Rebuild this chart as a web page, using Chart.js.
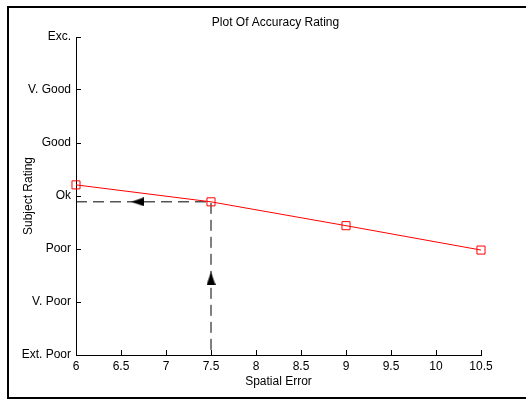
<!DOCTYPE html>
<html>
<head>
<meta charset="utf-8">
<script src="https://cdn.jsdelivr.net/npm/chart.js@4"></script>
<style>
  html, body { margin: 0; padding: 0; background: #fff; overflow: hidden; }
  #wrap { position: relative; width: 526px; height: 399px; }
  #frame {
    position: absolute; left: 7px; top: 6px; width: 600px; height: 389px;
    border: 2px solid #000; border-right: none; pointer-events: none;
  }
</style>
</head>
<body>
<div id="wrap">
  <canvas id="chart" width="526" height="399"></canvas>
  <div id="frame"></div>
</div>
<script>
const spatialError = [6, 7.5, 9, 10.5];
const subjectRating = [3.21, 2.89, 2.44, 1.98];
const ratingLabels = ['Ext. Poor', 'V. Poor', 'Poor', 'Ok', 'Good', 'V. Good', 'Exc.'];

// dashed read-off guide: from the curve at 7.5 across to the axis and down
const guideX = [6, 7.5, 7.5];
const guideY = [2.89, 2.89, 0];
const arrowX = [6.686, 7.5];
const arrowY = [2.89, 1.443];
const arrowRotation = [-90, 0];

const font = { family: 'Arial, "Liberation Sans", sans-serif', size: 12 };

function arrowHead() {
  const c = document.createElement('canvas');
  c.width = 9;
  c.height = 13;
  const ctx = c.getContext('2d');
  ctx.fillStyle = '#000';
  ctx.beginPath();
  ctx.moveTo(4.5, 0);
  ctx.lineTo(9, 13);
  ctx.lineTo(0, 13);
  ctx.closePath();
  ctx.fill();
  return c;
}

const titlePlugin = {
  id: 'plotTitle',
  afterDraw(chart) {
    const ctx = chart.ctx;
    ctx.save();
    ctx.font = `${font.size}px ${font.family}`;
    ctx.fillStyle = '#000';
    ctx.textAlign = 'center';
    ctx.textBaseline = 'alphabetic';
    ctx.fillText('Plot Of Accuracy Rating', 275.5, 26);
    ctx.restore();
  },
};

new Chart(document.querySelector('#chart'), {
  type: 'scatter',
  data: {
    datasets: [
      {
        label: 'Rating',
        data: spatialError.map((x, i) => ({ x, y: subjectRating[i] })),
        showLine: true,
        borderColor: '#ff0000',
        borderWidth: 1,
        pointStyle: 'rect',
        pointRadius: 5.7,
        pointBorderColor: '#ff0000',
        pointBackgroundColor: 'rgba(0,0,0,0)',
        pointBorderWidth: 1,
        order: 0,
        clip: false,
      },
      {
        label: 'Guide',
        data: guideX.map((x, i) => ({ x, y: guideY[i] })),
        showLine: true,
        borderColor: '#000',
        borderWidth: 1,
        borderDash: [11, 6],
        pointRadius: 0,
        order: 2,
        clip: false,
      },
      {
        label: 'Arrows',
        data: arrowX.map((x, i) => ({ x, y: arrowY[i] })),
        showLine: false,
        pointStyle: arrowHead(),
        rotation: arrowRotation,
        order: 1,
        clip: false,
      },
    ],
  },
  options: {
    responsive: false,
    animation: false,
    devicePixelRatio: 1,
    layout: { padding: { left: 0, right: 45, top: 37, bottom: 0 } },
    plugins: {
      legend: { display: false },
      tooltip: { enabled: false },
      title: { display: false },
    },
    scales: {
      x: {
        type: 'linear',
        min: 6,
        max: 10.5,
        afterFit: (scale) => { scale.height = 44; },
        ticks: {
          stepSize: 0.5,
          color: '#000',
          font,
          padding: 9,
          maxRotation: 0,
          callback: (value) => value,
        },
        grid: { drawOnChartArea: false, tickLength: -5, color: '#000' },
        border: { display: true, color: '#000', width: 1 },
        title: {
          display: true,
          text: 'Spatial Error',
          color: '#000',
          font,
          padding: { top: 0, bottom: 10 },
        },
      },
      y: {
        type: 'linear',
        min: 0,
        max: 6,
        afterFit: (scale) => { scale.width = 76; },
        ticks: {
          stepSize: 1,
          color: '#000',
          font,
          padding: 10,
          callback: (value) => ratingLabels[value] ?? '',
        },
        grid: { drawOnChartArea: false, tickLength: -5, color: '#000' },
        border: { display: true, color: '#000', width: 1 },
        title: {
          display: true,
          text: 'Subject Rating',
          color: '#000',
          font,
          padding: { top: 21, bottom: 0 },
        },
      },
    },
  },
  plugins: [titlePlugin],
});
</script>
</body>
</html>
